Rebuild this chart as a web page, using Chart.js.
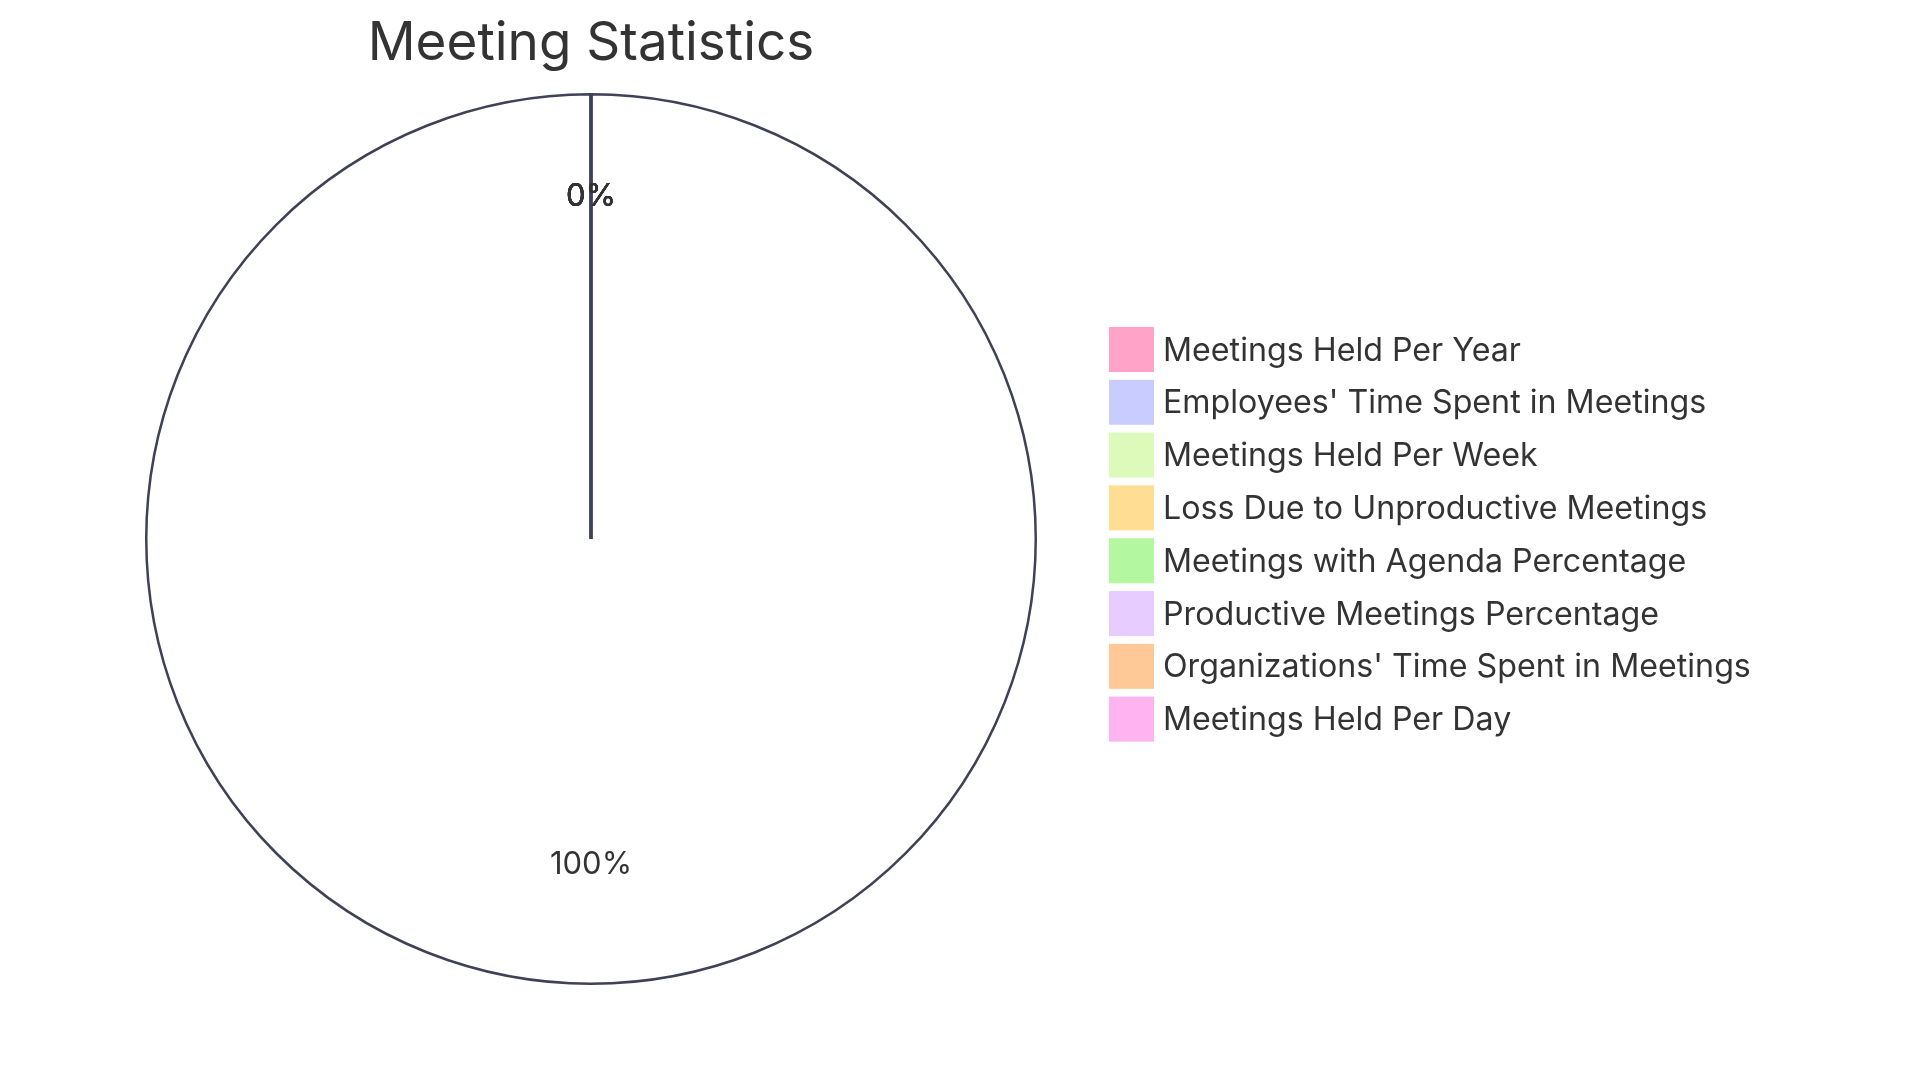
<!DOCTYPE html>
<html>
<head>
<meta charset="utf-8">
<script src="https://cdn.jsdelivr.net/npm/chart.js@4.4.1/dist/chart.umd.min.js"></script>
<style>
html,body{margin:0;padding:0;background:#fff;}
#wrap{width:1920px;height:1080px;position:relative;}
</style>
</head>
<body>
<div id="wrap"><canvas id="chart" width="1920" height="1080"></canvas></div>
<script>
const title='Meeting Statistics';
const labels=["Meetings Held Per Year","Employees' Time Spent in Meetings","Meetings Held Per Week","Loss Due to Unproductive Meetings","Meetings with Agenda Percentage","Productive Meetings Percentage","Organizations' Time Spent in Meetings","Meetings Held Per Day"];
const values=[25000000,31,62,37,37,50,15,11];
const legendColors=['#ffa3c8','#c9ccff','#ddfabb','#ffde94','#b3f7a1','#e7ccff','#ffc896','#ffb3f0'];

const FONT='Inter, "Noto Sans", sans-serif';
const lineCol='#3f4156';

// percent labels at 3/4 radius, like the original
const pctLabels={id:'pctLabels',afterDatasetsDraw(chart){
  const ctx=chart.ctx, meta=chart.getDatasetMeta(0);
  const total=values.reduce((a,b)=>a+b,0);
  ctx.save();
  ctx.fillStyle='#333';ctx.font='31px '+FONT;ctx.textAlign='center';ctx.textBaseline='alphabetic';
  meta.data.forEach((arc,i)=>{
    const p=arc.getProps(['x','y','startAngle','endAngle','outerRadius']);
    const a=(p.startAngle+p.endAngle)/2, r=p.outerRadius*0.75;
    ctx.fillText((values[i]/total*100).toFixed(0)+'%',p.x+Math.cos(a)*r,p.y+Math.sin(a)*r+1);
  });
  ctx.restore();
}};

// title + legend on the right
const sideDraw={id:'sideDraw',afterDraw(chart){
  const ctx=chart.ctx;
  ctx.save();
  ctx.fillStyle='#333';ctx.font='53px '+FONT;ctx.textAlign='center';ctx.textBaseline='alphabetic';
  ctx.fillText(title,591,60);
  ctx.font='32.2px '+FONT;ctx.textAlign='left';ctx.textBaseline='middle';
  labels.forEach((l,i)=>{
    const y=327+i*52.8;
    ctx.fillStyle=legendColors[i];ctx.fillRect(1109,y,45,45);
    ctx.fillStyle='#333';ctx.fillText(l,1163,y+24);
  });
  ctx.restore();
}};

new Chart(document.getElementById('chart'),{
  type:'pie',
  data:{labels,datasets:[{data:values,backgroundColor:values.map((v,i)=>i===0?'#ffffff':legendColors[i]),borderColor:lineCol,borderWidth:2.5}]},
  options:{responsive:false,animation:false,
    layout:{padding:{left:0,right:738,top:93,bottom:95}},
    plugins:{legend:{display:false},tooltip:{enabled:false},title:{display:false}}},
  plugins:[pctLabels,sideDraw]
});
</script>
</body>
</html>
